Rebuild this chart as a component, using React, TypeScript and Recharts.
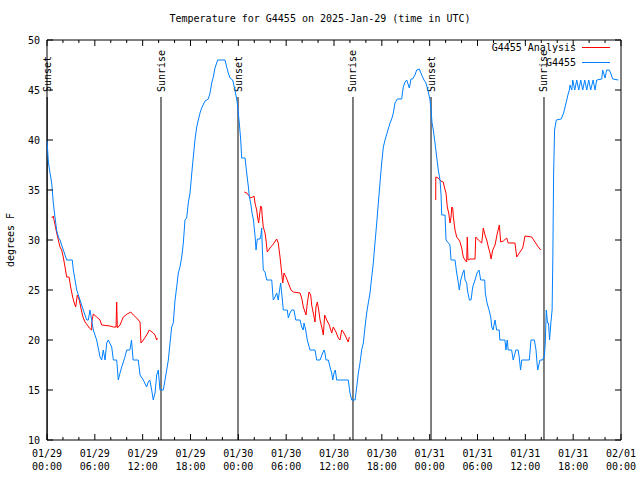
import React from 'react';
import { LineChart, Line, XAxis, YAxis, ReferenceLine, ReferenceArea, Legend } from 'recharts';

// hours since 2025-01-29 00:00 UTC, temperatures in F
const obsHours = [
  0.0, 0.17, 0.38, 0.59, 0.79, 1.0, 1.21, 1.42, 1.63, 1.84, 2.05, 2.26, 2.47, 3.17, 3.3, 3.73, 4.14, 4.55, 4.98, 5.18,
  5.39, 5.81, 6.23, 6.65, 6.86, 7.06, 7.28, 7.49, 7.69, 8.12, 8.32, 8.74, 8.94, 9.16, 9.37, 9.78, 10.0, 10.4, 10.6, 10.8,
  11.45, 11.67, 12.08, 12.5, 12.7, 12.9, 13.13, 13.33, 13.55, 13.76, 13.96, 14.17, 14.59, 14.8, 15.22, 15.43, 15.64, 15.84, 16.06, 16.27,
  16.47, 16.68, 16.9, 17.1, 17.31, 17.52, 17.72, 17.94, 18.23, 18.56, 18.78, 18.98, 19.19, 19.4, 19.82, 20.23, 20.45, 20.66, 20.86, 21.07,
  21.41, 22.33, 22.54, 22.74, 22.96, 23.29, 23.58, 23.87, 24.12, 24.3, 24.42, 24.84, 25.05, 25.26, 25.38, 25.55, 25.72, 25.88, 26.09, 26.22,
  26.38, 26.72, 26.84, 26.93, 27.0, 27.13, 27.35, 27.56, 28.19, 28.31, 28.39, 28.6, 28.81, 29.01, 29.14, 29.31, 29.44, 29.64, 30.14, 30.27,
  30.48, 30.7, 30.98, 31.2, 31.74, 31.95, 32.15, 32.24, 32.45, 32.65, 32.99, 33.62, 33.83, 34.25, 34.58, 34.75, 34.87, 35.0, 35.29, 35.5,
  35.71, 35.84, 36.0, 36.16, 36.34, 37.79, 38.01, 38.22, 38.64, 38.85, 39.05, 39.26, 39.47, 39.68, 39.89, 40.1, 40.3, 40.52, 40.73, 40.93,
  41.14, 41.36, 41.56, 41.77, 41.98, 42.19, 42.4, 43.03, 43.24, 43.44, 43.65, 43.94, 44.49, 44.69, 44.91, 45.12, 45.45, 45.66, 45.87, 46.16,
  46.37, 46.7, 47.0, 47.29, 47.54, 47.83, 48.04, 48.17, 48.3, 48.46, 48.67, 48.88, 49.08, 49.3, 49.43, 49.51, 49.93, 50.05, 50.55, 50.68,
  51.18, 51.39, 51.6, 51.72, 51.9, 52.15, 52.31, 52.44, 52.65, 52.73, 52.98, 53.19, 53.4, 53.69, 53.94, 54.19, 54.4, 54.9, 54.98, 55.2,
  55.45, 55.66, 55.79, 55.95, 56.2, 56.4, 56.73, 56.8, 57.44, 57.57, 57.73, 57.85, 58.28, 58.48, 58.81, 59.1, 59.23, 59.4, 59.55, 60.5,
  60.71, 61.13, 61.34, 61.47, 61.55, 61.84, 62.17, 62.4, 62.5, 62.63, 62.79, 62.91, 63.04, 63.2, 63.36, 63.45, 63.55, 63.67, 63.88, 64.5,
  64.8, 64.98, 65.2, 65.4, 65.53, 65.6, 65.83, 65.95, 66.2, 66.45, 66.7, 66.95, 67.2, 67.45, 67.7, 67.95, 68.2, 68.5, 68.75, 68.95,
  69.58, 69.7, 70.0, 70.2, 70.53, 70.7, 70.96, 71.66,
];
const obsTemps = [
  40, 37.8, 36.7, 35.7, 33.7, 32.3, 31, 30.3, 30, 29.5, 29, 28.5, 28, 28, 27, 25, 24, 23, 22, 22,
  23, 21, 20, 18.3, 18, 19, 18, 19.7, 20, 19.3, 18, 18, 16, 16.7, 17.3, 18.3, 19, 19, 20, 18,
  18, 16.5, 16, 15.3, 15.8, 16, 15, 14, 14.7, 16.5, 17, 15, 15, 16, 18, 19.7, 21.3, 21.7, 24, 25.3,
  26.7, 27.3, 28.3, 29.7, 32, 32.2, 33.7, 34.7, 37.3, 40, 41.3, 42, 42.7, 43.2, 43.9, 44.1, 44.7, 45.7, 46.3, 47.2,
  48, 48, 47.3, 46.7, 46.2, 46, 45, 43.7, 41.7, 40, 38.2, 38.2, 36.7, 35.3, 34.3, 33.7, 32.7, 32.1, 30.5, 29,
  30.1, 30.1, 30.5, 31.2, 29.3, 27, 26.8, 26, 26, 24.7, 24, 24.3, 24.7, 24, 24.8, 25.7, 24.7, 23, 23, 22.2,
  22.7, 23, 23, 22, 22, 21.3, 21, 21.7, 21, 20, 19, 19, 18, 18, 18.7, 19, 18.7, 18, 18, 17.3,
  16.7, 16, 16.7, 17, 16, 16, 14.7, 14, 14, 15.3, 16.7, 17.7, 19, 19.7, 21.3, 22.7, 23.7, 24.7, 26.3, 27.7,
  29.7, 31.7, 33.7, 35.7, 37.7, 39.3, 40, 41.7, 42.1, 42.7, 43.7, 44.1, 44.1, 45.3, 45.8, 46, 45.2, 46.1, 46.1, 46.5,
  47, 47.1, 46.5, 46, 45.7, 44.8, 44, 43, 41.7, 41, 39.7, 38.3, 37, 36, 34.5, 32.5, 32.5, 30, 29.5, 28,
  28, 26.7, 25.7, 25, 26, 26.7, 27, 26, 25.7, 25, 24, 24, 25.3, 26, 26.7, 27, 26, 26, 24.7, 23.7,
  23, 22.3, 21.3, 21, 22, 21, 21, 20, 20, 19, 20, 19, 19, 18, 19, 19, 18.3, 17, 18, 18,
  20, 20, 19, 17.7, 17, 18, 18, 18.5, 19.7, 23, 21.7, 21.7, 20, 21.7, 23, 28.3, 36.7, 41, 42, 42.1,
  42.7, 43.3, 44, 44.7, 45, 45.5, 45, 46, 45, 46, 45, 46, 45, 46, 45, 46, 45, 46, 45, 46,
  46.1, 47, 46.2, 47, 47, 46.7, 46.1, 46,
];

// analysis series, null = no analysis (gap between nights)
const anaHours = [
  0.59, 0.79, 0.88, 1.22, 1.42, 1.63, 1.84, 2.04, 2.26, 2.47, 2.76, 2.97, 3.22, 3.42, 3.6, 3.8, 4.05, 4.23, 4.39, 4.55,
  4.77, 5.06, 5.31, 5.6, 5.62, 5.81, 6.23, 6.65, 6.86, 7.9, 8.32, 8.66, 8.74, 8.82, 9.16, 9.57, 10.07, 10.5, 10.83, 11.25,
  11.67, 11.79, 12.08, 12.5, 12.83, 13.33, 13.55, 13.76, 13.84, 19,
  24.75, 25.05, 25.26, 25.55, 25.8, 25.97, 26.09, 26.3, 26.43, 26.55, 26.63, 26.81, 26.93, 27.0, 27.13, 27.35, 27.47, 27.63, 27.97, 28.39,
  28.81, 29.01, 29.23, 29.36, 29.57, 29.73, 29.98, 30.27, 30.61, 30.9, 31.74, 31.95, 32.15, 32.49, 32.65, 32.87, 33.08, 33.2, 33.4, 33.62,
  33.74, 33.91, 34.08, 34.25, 34.46, 34.66, 34.83, 35.09, 35.41, 35.71, 35.91, 36.25, 36.54, 36.75, 36.97, 37.17, 37.38, 37.6, 37.79, 37.92,
  43,
  48.76, 48.77, 49.08, 49.39, 49.71, 49.84, 50.05, 50.21, 50.39, 50.55, 50.68, 50.77, 50.89, 50.97, 51.18, 51.39, 51.68, 51.81, 52.02, 52.22,
  52.43, 52.64, 52.72, 52.81, 53.06, 53.69, 53.78, 54.1, 54.53, 54.73, 54.94, 55.16, 55.36, 55.57, 55.7, 55.91, 56.2, 56.49, 56.74, 56.91,
  57.24, 57.66, 57.86, 58.7, 58.92, 59.33, 59.67, 59.96, 60.8, 61.21, 61.63, 61.93,
];
const anaTemps = [
  32.2, 32.4, 32, 30.7, 30, 29.3, 29, 28.3, 27.3, 26.3, 26.3, 25.3, 24.3, 23.7, 23.3, 24.5, 24, 23.3, 22.7, 22.2,
  21.8, 21.5, 21.2, 21, 21.8, 22.6, 22.3, 22, 21.5, 21.4, 21.3, 21.3, 23.8, 21.2, 21.5, 22.3, 22.6, 22.8, 22.5, 22.2,
  21.8, 19.7, 20, 20.5, 21, 20.7, 20.5, 20, 20.2, null,
  34.8, 34.7, 34.5, 34.2, 34.3, 34.4, 33.7, 33, 32.2, 31.7, 32.3, 33.4, 33.2, 32.3, 31.3, 30.7, 30, 28.8, 29.2, 29.6,
  30.1, 29.7, 28.3, 27.3, 25.7, 26.7, 26.3, 25.7, 25, 24.8, 24.7, 24.2, 23.3, 22.5, 23.7, 24.8, 24.5, 23.5, 22.7, 21.8,
  23.3, 23.8, 23, 22, 21.3, 20.5, 22.5, 22, 21.5, 20.7, 21.3, 20.8, 20.2, 20, 21, 20.8, 20.5, 20.1, 19.8, 20.3,
  null,
  34, 36.3, 36.2, 35.9, 35.8, 35.3, 34.7, 33.3, 32.7, 31.7, 32.3, 33.3, 33.2, 32.3, 31, 30.3, 30, 29.8, 29.2, 28.3,
  28, 27.8, 30.3, 28, 28.1, 28.1, 30.3, 30, 29.7, 31.2, 30.5, 30, 29.3, 28.7, 28.1, 29, 29.5, 30.7, 31.5, 29.8,
  29.9, 30.2, 29.7, 29.7, 28.3, 28.8, 29.2, 30.4, 30.3, 29.8, 29.3, 29,
];

const eventHours = [0.02, 14.3, 23.96, 38.38, 48.17, 62.34];
const eventNames = ['Sunset', 'Sunrise', 'Sunset', 'Sunrise', 'Sunset', 'Sunrise'];

const tickDates = ['01/29', '01/29', '01/29', '01/29', '01/30', '01/30', '01/30', '01/30', '01/31', '01/31', '01/31', '01/31', '02/01'];
const tickTimes = ['00:00', '06:00', '12:00', '18:00', '00:00', '06:00', '12:00', '18:00', '00:00', '06:00', '12:00', '18:00', '00:00'];
const yTicks = [10, 15, 20, 25, 30, 35, 40, 45, 50];
const legendOrder = ['G4455 Analysis', 'G4455'];

const FONT = '"DejaVu Sans Mono", monospace';
const PLOT_W = 574;
const PLOT_H = 400;
const LABEL_TOP = 44.3; // sun lines stop below their labels

const obsData = obsHours.map((h, i) => ({ h, v: obsTemps[i] }));
const anaData = anaHours.map((h, i) => ({ h, v: anaTemps[i] }));
const xTicks = Array.from({ length: 37 }, (_, i) => i * 2);

const XTick = (props: any) => {
  const { x, y, payload } = props;
  const h = payload.value;
  const major = h % 6 === 0;
  const len = major ? 6 : 3;
  const idx = h / 6;
  return (
    <g>
      <line x1={x} y1={y} x2={x} y2={y - len} stroke="#000" />
      <line x1={x} y1={y - PLOT_H} x2={x} y2={y - PLOT_H + len} stroke="#000" />
      {major && (
        <text x={x} y={y + 17} textAnchor="middle" fontSize={10} fontFamily={FONT} fill="#000">
          {tickDates[idx]}
        </text>
      )}
      {major && (
        <text x={x} y={y + 30} textAnchor="middle" fontSize={10} fontFamily={FONT} fill="#000">
          {tickTimes[idx]}
        </text>
      )}
    </g>
  );
};

const YTick = (props: any) => {
  const { x, y, payload } = props;
  return (
    <g>
      <line x1={x} y1={y} x2={x + 6} y2={y} stroke="#000" />
      <line x1={x + PLOT_W} y1={y} x2={x + PLOT_W - 6} y2={y} stroke="#000" />
      <text x={x - 7} y={y} textAnchor="end" dominantBaseline="central" fontSize={10} fontFamily={FONT} fill="#000">
        {payload.value}
      </text>
    </g>
  );
};

const YTitle = (props: any) => {
  const vb = props.viewBox || { x: 0, y: 40, width: 47, height: 400 };
  const cx = vb.x + 10;
  const cy = vb.y + vb.height / 2;
  return (
    <text x={cx} y={cy} transform={`rotate(-90 ${cx} ${cy})`} textAnchor="middle" dominantBaseline="central"
      fontSize={10} fontFamily={FONT} fill="#000">
      degrees F
    </text>
  );
};

const EventLabel = (props: any) => {
  const { viewBox, text } = props;
  if (!viewBox) return null;
  const x = viewBox.x;
  const y = viewBox.y - 5;
  return (
    <text x={x} y={y} transform={`rotate(-90 ${x} ${y})`} textAnchor="start" dominantBaseline="central"
      fontSize={10} fontFamily={FONT} fill="#000">
      {text}
    </text>
  );
};

const LegendContent = (props: any) => {
  const items = [...(props.payload || [])].sort(
    (a: any, b: any) => legendOrder.indexOf(a.value) - legendOrder.indexOf(b.value)
  );
  return (
    <div style={{ fontFamily: FONT, fontSize: 10, color: '#000' }}>
      {items.map((entry: any) => (
        <div key={entry.value} style={{ display: 'flex', alignItems: 'center', justifyContent: 'flex-end', height: 15 }}>
          <span style={{ whiteSpace: 'pre' }}>{entry.value}</span>
          <span style={{ display: 'inline-block', width: 28, height: 0, borderTop: `1px solid ${entry.color}`, marginLeft: 6 }} />
        </div>
      ))}
    </div>
  );
};

export default function App() {
  return (
    <div style={{ position: 'absolute', left: 0, top: 0, width: 640, height: 480, background: '#fff' }}>
      <div style={{ position: 'absolute', top: 13, left: 0, width: 640, textAlign: 'center', fontFamily: FONT, fontSize: 10, color: '#000' }}>
        Temperature for G4455 on 2025-Jan-29 (time in UTC)
      </div>
      <LineChart width={640} height={480} margin={{ top: 40, right: 19, bottom: 0, left: 0 }}>
        <XAxis dataKey="h" type="number" domain={[0, 72]} ticks={xTicks} interval={0} height={40}
          axisLine={false} tickLine={false} tickSize={0} tickMargin={0} tick={<XTick />} allowDataOverflow />
        <YAxis type="number" domain={[10, 50]} ticks={yTicks} interval={0} width={47}
          axisLine={false} tickLine={false} tickSize={0} tickMargin={0} tick={<YTick />} label={<YTitle />} allowDataOverflow />
        <ReferenceArea x1={0} x2={72} y1={10} y2={50} fill="none" fillOpacity={0} stroke="#000" strokeWidth={1} ifOverflow="visible" />
        {eventHours.map((h, i) => (
          <ReferenceLine key={i} segment={[{ x: h, y: 10 }, { x: h, y: LABEL_TOP }]} stroke="#000" strokeWidth={1}
            ifOverflow="visible" label={<EventLabel text={eventNames[i]} />} />
        ))}
        <Line data={anaData} dataKey="v" name="G4455 Analysis" stroke="#ff0000" strokeWidth={1} dot={false}
          connectNulls={false} isAnimationActive={false} />
        <Line data={obsData} dataKey="v" name="G4455" stroke="#0080ff" strokeWidth={1} dot={false}
          isAnimationActive={false} />
        <Legend layout="vertical" align="center" verticalAlign="middle" content={<LegendContent />}
          wrapperStyle={{ position: 'absolute', top: 40, right: 30, left: 'auto', bottom: 'auto', width: 'auto' }} />
      </LineChart>
    </div>
  );
}
